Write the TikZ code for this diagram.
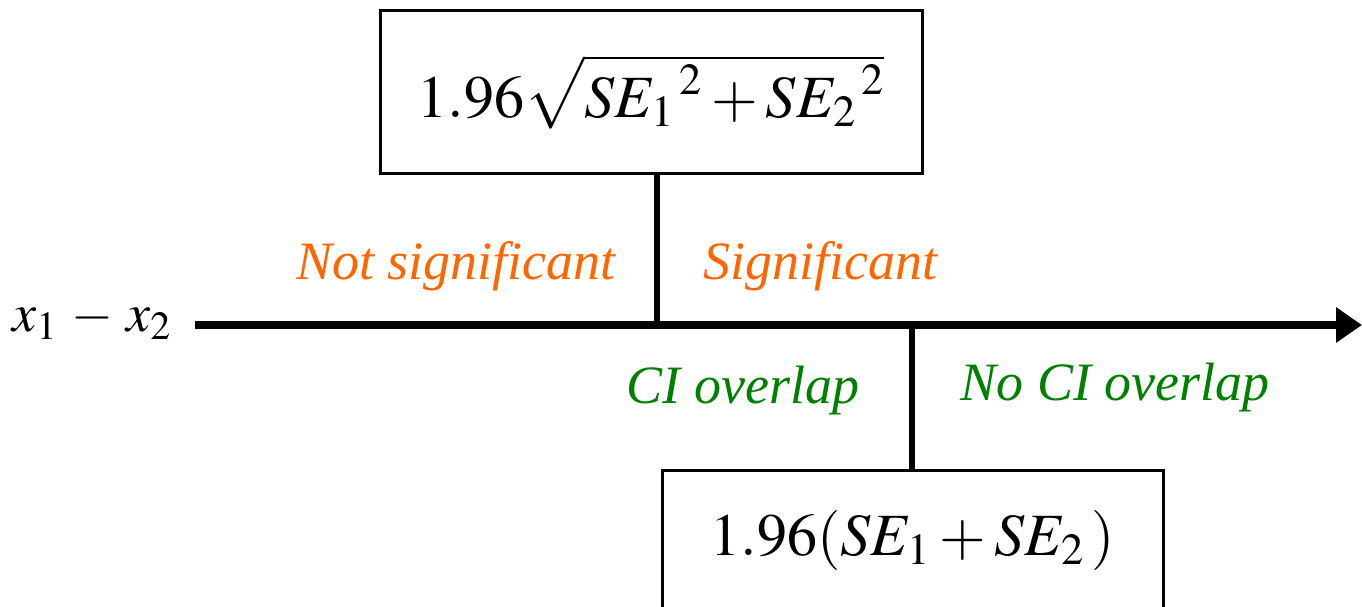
\documentclass[tikz,border=0pt]{standalone}
\usepackage{mathptmx}
\usepackage{fontspec}
\setmainfont{Liberation Serif}
\usetikzlibrary{arrows.meta}
\definecolor{sigorange}{RGB}{255,102,0}
\definecolor{cigreen}{RGB}{0,128,0}
\tikzset{
  formbox/.style={draw=black, line width=1.5pt, inner sep=0pt, font=\fontsize{30}{36}\selectfont},
  stem/.style={line width=3pt},
  axisline/.style={line width=4pt, -{Triangle[length=13pt,width=17pt]}},
  siglabel/.style={text=sigorange, font=\fontsize{27}{32}\selectfont\itshape, inner sep=0pt},
  cilabel/.style={text=cigreen, font=\fontsize{27}{32}\selectfont\itshape, inner sep=0pt},
}
\begin{document}
\begin{tikzpicture}[x=0.5pt,y=-0.5pt]
\useasboundingbox (0,0) rectangle (1362,606);
\node[formbox, minimum width=271pt, minimum height=81.5pt] (top) at (651,91.5) {$1.96\sqrt{{SE_1}^{\,2}+{SE_2}^{\,2}}$};
\node[formbox, minimum width=250.5pt, minimum height=70pt] (bot) at (912.5,540) {$1.96({SE_1}+{SE_2}\,)$};
\coordinate (start) at (195,325);
\coordinate (tip) at (1362,325);
\coordinate (v1) at (657,325);
\coordinate (v2) at (912,325);
\node[font=\fontsize{27}{32}\selectfont, inner sep=0pt] (diff) at (92,320) {$x_1\mathbin{\,-\,}x_2$};
\draw[axisline] (start) -- (tip);
\draw[stem] (top.south -| v1) -- (v1);
\draw[stem] (v2) -- (bot.north -| v2);
\node[siglabel] (ns) at (456,266) {Not significant};
\node[siglabel] (sg) at (820,266) {Significant};
\node[cilabel] (ci) at (743,391) {CI overlap};
\node[cilabel] (nci) at (1115,388) {No CI overlap};
\end{tikzpicture}
\end{document}
